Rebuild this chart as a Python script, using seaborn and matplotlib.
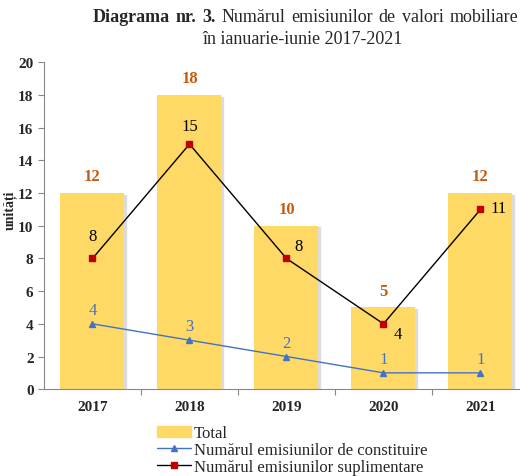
import matplotlib
matplotlib.use('Agg')
import matplotlib.pyplot as plt
import seaborn as sns
import pandas as pd
from matplotlib.lines import Line2D
from matplotlib.patches import Patch

# date
ani = ['2017', '2018', '2019', '2020', '2021']
total = [12, 18, 10, 5, 12]
constituire = [4, 3, 2, 1, 1]
suplimentare = [8, 15, 8, 4, 11]

df = pd.DataFrame({'an': ani, 'total': total})

sns.set_style('white')
plt.rcParams['font.family'] = ['Liberation Serif', 'DejaVu Serif']

fig = plt.figure(figsize=(5.2, 4.77), dpi=100)
ax = fig.add_axes([0.0846, 0.182, 0.955, 0.685])

culoare_bara = '#FFD966'
sns.barplot(data=df, x='an', y='total', color=culoare_bara, width=0.66,
            saturation=1, ax=ax, zorder=2)
# umbra usoara
for p in ax.patches:
    p.set_edgecolor('none')
    sh = plt.Rectangle((p.get_x() + 0.02, 0), p.get_width(), p.get_height() - 0.1,
                       color='#dcdcdc', zorder=1)
    ax.add_patch(sh)

x = range(len(ani))
ax.plot(x, suplimentare, color='black', lw=1, marker='s', ms=5,
        mfc='#C00000', mec='#C00000', zorder=4)
ax.plot(x, constituire, color='#4472C4', lw=1, marker='^', ms=5,
        mfc='#4472C4', mec='#4472C4', zorder=4)

# etichete
for i, v in enumerate(total):
    ax.text(i, v + 0.55, str(v), ha='center', va='bottom', color='#C55A11',
            fontsize=12, fontweight='bold')
for i, v in enumerate(constituire):
    ax.text(i, v + 0.35, str(v), ha='center', va='bottom', color='#4472C4', fontsize=12)
off_sup = [(0, 0.9, 'center'), (0, 0.6, 'center'), (0.08, 0.3, 'left'),
           (0.1, -1.1, 'left'), (0.1, -0.4, 'left')]
for i, v in enumerate(suplimentare):
    dx, dy, ha = off_sup[i]
    ax.text(i + dx, v + dy, str(v), ha=ha, va='bottom', color='black', fontsize=12)

ax.set_ylim(0, 20)
ax.set_yticks(range(0, 21, 2))
ax.set_xlim(-0.5, 4.62)
ax.set_xticks([0.5, 1.5, 2.5, 3.5], minor=True)
ax.set_xlabel('')
ax.set_ylabel('')
fig.text(10 / 520, 0.56, 'unități', rotation=90, ha='center', va='center',
         fontsize=10, fontweight='bold')
ax.tick_params(axis='y', labelsize=11, length=4, direction='out', left=True, width=0.8, color='#888888')
ax.tick_params(axis='x', which='major', labelsize=11, length=0, pad=8)
ax.tick_params(axis='x', which='minor', length=4, width=0.8, color='#888888', bottom=True)
for t in ax.get_xticklabels() + ax.get_yticklabels():
    t.set_fontweight('bold')
for s in ['top', 'right']:
    ax.spines[s].set_visible(False)
for s in ['left', 'bottom']:
    ax.spines[s].set_color('#888888')
    ax.spines[s].set_linewidth(0.8)

# titlu, primul rand justificat intre x=93 si x=518
cuvinte = [('Diagrama', 'bold'), ('nr.', 'bold'), ('3.', 'bold'), ('Numărul', 'normal'),
           ('emisiunilor', 'normal'), ('de', 'normal'), ('valori', 'normal'),
           ('mobiliare', 'normal')]
r = fig.canvas.get_renderer()
obiecte = []
for w, fw in cuvinte:
    t = fig.text(0, 0.964, w, ha='left', va='center', fontsize=13, fontweight=fw)
    obiecte.append(t)
latimi = [t.get_window_extent(r).width for t in obiecte]
x0, x1 = 93, 518
spatiu = (x1 - x0 - sum(latimi)) / (len(cuvinte) - 1)
pos = x0
for t, wd in zip(obiecte, latimi):
    t.set_x(pos / 520)
    pos += wd + spatiu
fig.text(303 / 520, 0.918, 'în ianuarie-iunie 2017-2021', ha='center', va='center', fontsize=13)

handles = [Patch(color=culoare_bara),
           Line2D([], [], color='#4472C4', lw=1, marker='^', ms=4),
           Line2D([], [], color='black', lw=1, marker='s', ms=4, mfc='#C00000', mec='#C00000')]
labels = ['Total', 'Numărul emisiunilor de constituire', 'Numărul emisiunilor suplimentare']
fig.legend(handles, labels, loc='upper left', bbox_to_anchor=(0.29, 0.12),
           frameon=False, fontsize=12, handlelength=2, handletextpad=0.2,
           labelspacing=0.05, borderaxespad=0)

fig.savefig('out.png', dpi=100)
